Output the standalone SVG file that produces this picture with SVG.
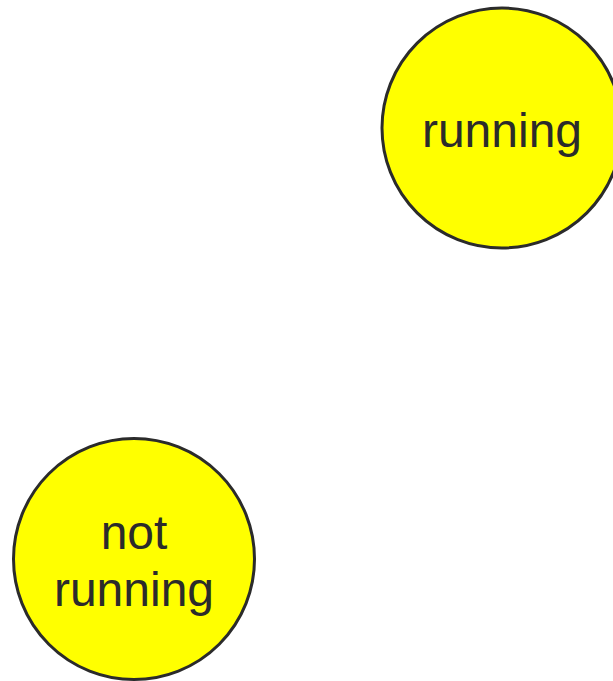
<svg xmlns="http://www.w3.org/2000/svg" width="613" height="681" viewBox="0 0 613 681">
<style>
.node circle { fill: #ffff00; stroke: #2b2b2b; stroke-width: 3; }
.node text { font-family: "Liberation Sans", Arial, sans-serif; font-size: 48px; fill: #2b2b2b; text-anchor: middle; }
</style>
<rect width="613" height="681" fill="#ffffff"/>
<g id="connectors"></g>
<g id="node-running" class="node">
<circle cx="502" cy="128" r="120"/>
<text x="502" y="147">running</text>
</g>
<g id="node-not-running" class="node">
<circle cx="134" cy="559" r="120.5"/>
<text x="134" y="549">not</text>
<text x="134" y="606">running</text>
</g>
</svg>
